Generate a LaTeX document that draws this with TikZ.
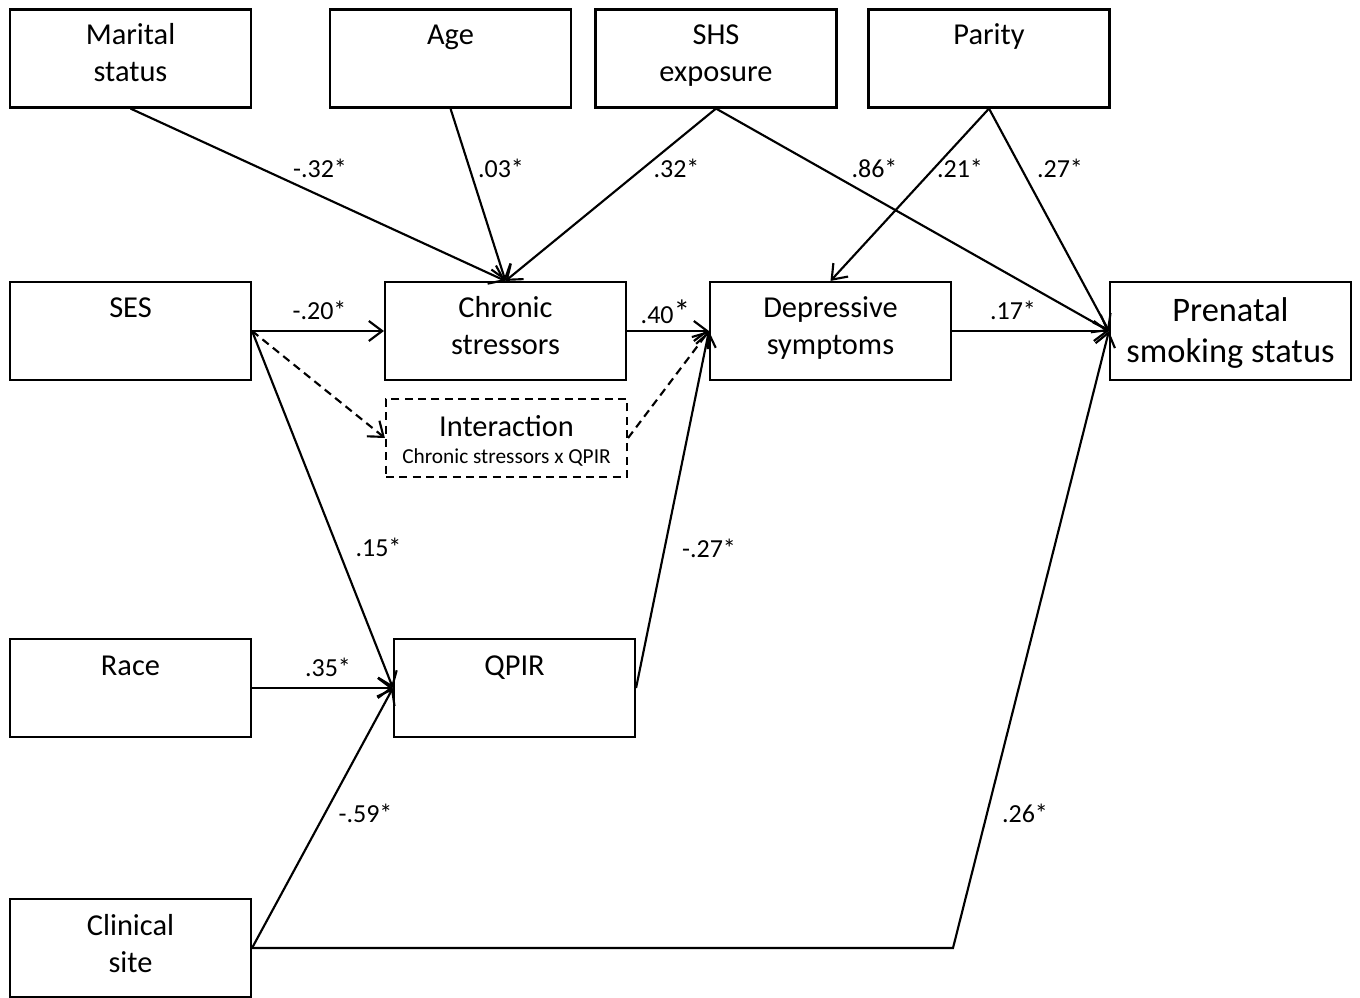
\documentclass[tikz,border=0pt]{standalone}
\usepackage{fontspec}
\setmainfont{Carlito}
\usetikzlibrary{arrows.meta}
\tikzset{
  box/.style={draw, line width=1.6pt, minimum width=180.75pt, minimum height=73.5pt, inner sep=0pt},
  dbox/.style={box, dashed, dash pattern=on 6pt off 4pt, minimum height=58.5pt},
  txt/.style={align=center, anchor=base, font=\fontsize{22.8}{27.75}\selectfont, inner sep=0pt},
  bigtxt/.style={align=center, anchor=base, font=\fontsize{25.8}{30.75}\selectfont, inner sep=0pt},
  smalltxt/.style={anchor=base, font=\fontsize{16}{19}\selectfont, inner sep=0pt},
  lab/.style={font=\fontsize{19.5}{23}\selectfont, inner sep=0pt},
  arr/.style={line width=1.6pt, -{Straight Barb[length=10pt,width=15pt,line width=1.6pt]}},
  darr/.style={arr, dash pattern=on 6pt off 4pt},
}
\begin{document}
\begin{tikzpicture}[x=0.75pt, y=-0.75pt]
\useasboundingbox (0,0) rectangle (1360,998);
% boxes
\node[box] (mar) at (130.5,58.5) {};
\node[box] (age) at (450.5,58.5) {};
\node[box] (shs) at (716,58.5) {};
\node[box] (par) at (989,58.5) {};
\node[box] (ses) at (130.5,331) {};
\node[box] (chr) at (505.5,331) {};
\node[box] (dep) at (830.5,331) {};
\node[box] (pre) at (1230.5,331) {};
\node[dbox] (int) at (506.5,438) {};
\node[box] (race) at (130.5,688) {};
\node[box] (qpir) at (514.5,688) {};
\node[box] (clin) at (130.5,948) {};
% texts (base anchor = baseline of last line)
\node[txt] (tmar) at (130.5,82) {Marital\\status};
\node[txt] (tage) at (450.5,45) {Age};
\node[txt] (tshs) at (716,82) {SHS\\exposure};
\node[txt] (tpar) at (989,45) {Parity};
\node[txt] (tses) at (130.5,318) {SES};
\node[txt] (tchr) at (505.5,355) {Chronic\\stressors};
\node[txt] (tdep) at (830.5,355) {Depressive\\symptoms};
\node[bigtxt] (tpre) at (1230.5,363) {Prenatal\\smoking status};
\node[txt] (tint) at (506.5,436.5) {Interaction};
\node[smalltxt] (tint2) at (506.5,463) {Chronic stressors x QPIR};
\node[txt] (trace) at (130.5,675) {Race};
\node[txt] (tqpir) at (514.5,675) {QPIR};
\node[txt] (tclin) at (130.5,972) {Clinical\\site};
% connectors
\draw[arr] (mar.south) -- (chr.north);
\draw[arr] (age.south) -- (chr.north);
\draw[arr] (shs.south) -- (chr.north);
\draw[arr] (shs.south) -- (pre.west);
\draw[arr] (par.south) -- (dep.north);
\draw[arr] (par.south) -- (pre.west);
\draw[arr] (ses.east) -- (chr.west);
\draw[arr] (chr.east) -- (dep.west);
\draw[arr] (dep.east) -- (pre.west);
\draw[darr] (ses.east) -- (int.west);
\draw[darr] (int.east) -- (dep.west);
\draw[arr] (ses.east) -- (qpir.west);
\draw[arr] (qpir.east) -- (dep.west);
\draw[arr] (race.east) -- (qpir.west);
\draw[arr] (clin.east) -- (qpir.west);
\coordinate (bend) at (953,948);
\draw[arr] (clin.east) -- (bend) -- (pre.west);
% labels
\node[lab] (l1) at (320,168) {-.32*};
\node[lab] (l2) at (501,168) {.03*};
\node[lab] (l3) at (676.5,168) {.32*};
\node[lab] (l4) at (874.5,168) {.86*};
\node[lab] (l5) at (960,168) {.21*};
\node[lab] (l6) at (1060,168) {.27*};
\node[lab] (l7) at (319.5,310) {-.20*};
\node[lab] (l8) at (665.5,312) {.40{\fontsize{25}{25}\selectfont*}};
\node[lab] (l9) at (1013,310) {.17*};
\node[lab] (l10) at (378.5,547) {.15*};
\node[lab] (l11) at (709,548) {-.27*};
\node[lab] (l12) at (328,667) {.35*};
\node[lab] (l13) at (365.5,813) {-.59*};
\node[lab] (l14) at (1025,813) {.26*};
\end{tikzpicture}
\end{document}
